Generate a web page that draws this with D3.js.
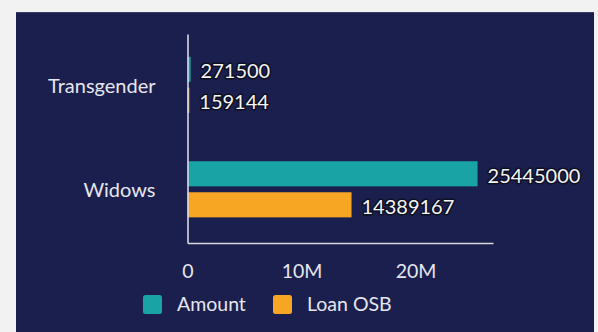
<!DOCTYPE html>
<html>
<head>
<meta charset="utf-8">
<script src="https://cdn.jsdelivr.net/npm/d3@7"></script>
<style>
  html, body { margin: 0; padding: 0; background: #f2f2f2; }
  svg { display: block; font-family: Lato, "Noto Sans", sans-serif; }
</style>
</head>
<body>
<svg id="chart" width="598" height="332"></svg>
<script>
// Beneficiary groups and their totals
const categories = ["Transgender", "Widows"];
const seriesNames = ["Amount", "Loan OSB"];
const amountValues = [271500, 25445000];
const loanOsbValues = [159144, 14389167];
const tickValues = [0, 10000000, 20000000];
const tickLabels = ["0", "10M", "20M"];

const colors = { "Amount": "#1aa3a5", "Loan OSB": "#f7a623" };

const rows = categories.map((c, i) => ({
  category: c,
  values: [
    { series: "Amount", value: amountValues[i] },
    { series: "Loan OSB", value: loanOsbValues[i] }
  ]
}));

const svg = d3.select("#chart");

// dark card
svg.append("rect")
  .attr("x", 16).attr("y", 12)
  .attr("width", 578).attr("height", 330)
  .attr("fill", "#1b1f4d");
svg.append("line")
  .attr("x1", 16).attr("x2", 594).attr("y1", 12.5).attr("y2", 12.5)
  .attr("stroke", "#3a3f6a").attr("stroke-width", 1);

const x = d3.scaleLinear().domain([0, 26800000]).range([187.5, 493]);
const y = d3.scaleBand().domain(categories).range([34, 243]).padding(0);
const ySub = d3.scaleBand().domain(seriesNames)
  .range([0, y.bandwidth()]).paddingInner(0.19).paddingOuter(0.78).align(0.47);

// bars
const groups = svg.append("g").selectAll("g")
  .data(rows).join("g")
  .attr("transform", d => `translate(0,${y(d.category)})`);

groups.selectAll("rect")
  .data(d => d.values).join("rect")
  .attr("x", x(0))
  .attr("y", d => ySub(d.series))
  .attr("width", d => x(d.value) - x(0))
  .attr("height", ySub.bandwidth())
  .attr("fill", d => colors[d.series]);

// value labels with a dark halo
groups.selectAll("text")
  .data(d => d.values).join("text")
  .attr("x", d => x(d.value) + 10)
  .attr("y", d => ySub(d.series) + ySub.bandwidth() / 2 + 2)
  .attr("dy", "0.35em")
  .attr("font-size", 20)
  .attr("fill", "#f4f4f4")
  .attr("stroke", "#0d0f22")
  .attr("stroke-width", 3)
  .attr("stroke-linejoin", "round")
  .attr("paint-order", "stroke")
  .text(d => d.value);

// category axis
const yAxis = svg.append("g")
  .attr("transform", `translate(${x(0)},0)`)
  .call(d3.axisLeft(y).tickSize(0).tickPadding(32));
yAxis.select(".domain").attr("stroke", "#d8d8e0").attr("stroke-width", 1.6);
yAxis.selectAll("text")
  .attr("font-size", 20)
  .attr("fill", "#e6e6ee")
  .attr("font-family", "Lato, 'Noto Sans', sans-serif");

// value axis
const xAxis = svg.append("g")
  .attr("transform", "translate(0,243)")
  .call(d3.axisBottom(x).tickValues(tickValues)
    .tickFormat((d, i) => tickLabels[i]).tickSize(0).tickPadding(21));
xAxis.select(".domain").attr("stroke", "#d8d8e0").attr("stroke-width", 1.6);
xAxis.selectAll("text")
  .attr("font-size", 19.5)
  .attr("fill", "#e6e6ee")
  .attr("font-family", "Lato, 'Noto Sans', sans-serif");

// legend
const legendX = [143, 273];
const legend = svg.append("g").selectAll("g")
  .data(seriesNames).join("g")
  .attr("transform", (d, i) => `translate(${legendX[i]},295)`);
legend.append("rect")
  .attr("width", 19).attr("height", 19).attr("rx", 2.5)
  .attr("fill", d => colors[d]);
legend.append("text")
  .attr("x", 34).attr("y", 9.5).attr("dy", "0.35em")
  .attr("font-size", 19.5)
  .attr("fill", "#e6e6ee")
  .text(d => d);
</script>
</body>
</html>
